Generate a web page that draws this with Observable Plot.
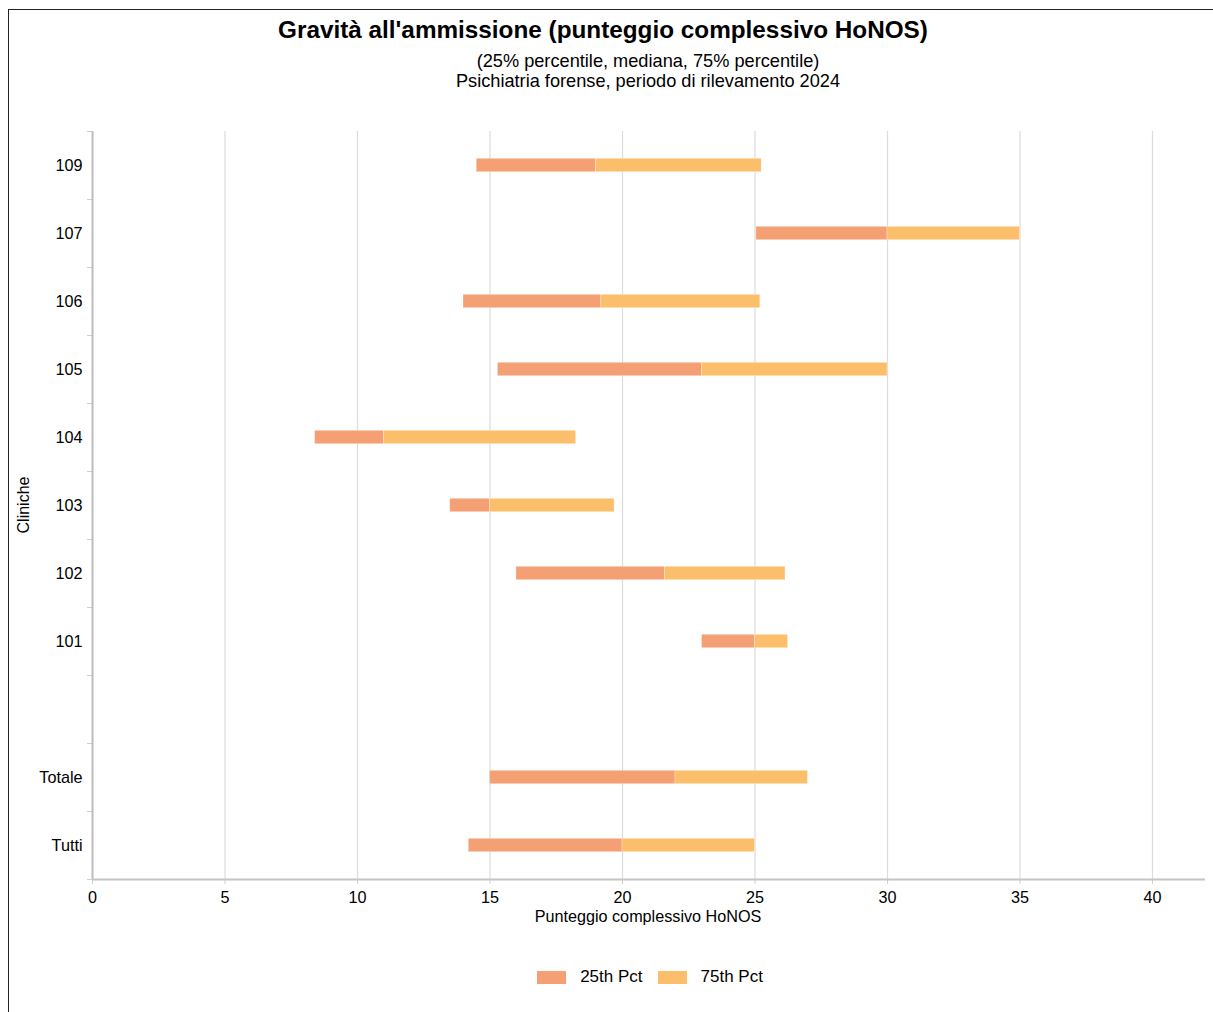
<!DOCTYPE html>
<html>
<head>
<meta charset="utf-8">
<script src="https://cdn.jsdelivr.net/npm/d3@7"></script>
<script src="https://cdn.jsdelivr.net/npm/@observablehq/plot@0.6"></script>
<style>
  html, body { margin: 0; padding: 0; background: #fff; }
  body { font-family: "Liberation Sans", Arial, sans-serif; color: #000; }
  #wrap { position: relative; width: 1213px; height: 1012px; overflow: hidden; }
  #frame { position: absolute; left: 8px; top: 9px; width: 1300px; height: 1100px;
           border-left: 1px solid #222; border-top: 1px solid #222; }
  .abs { position: absolute; white-space: nowrap; }
  #title { left: 0; width: 1206px; top: 16px; text-align: center; font-weight: bold; font-size: 24.3px; line-height: 28px; }
  #sub { left: 448px; width: 400px; top: 52px; text-align: center; font-size: 18.2px; line-height: 19.5px; }
  #chart { position: absolute; left: 0; top: 110px; }
  #xlabel { left: 448px; width: 400px; top: 907px; text-align: center; font-size: 16.2px; line-height: 19px; }
  #ylabel { left: 24px; top: 505px; font-size: 16px; transform: translate(-50%, -50%) rotate(-90deg); }
  #legend { left: 0; width: 1300px; top: 967px; display: flex; justify-content: center; align-items: center; font-size: 17px; }
  .sw { width: 29px; height: 13px; display: inline-block; margin-right: 14px; }
  .item { display: flex; align-items: center; }
  .item + .item { margin-left: 15px; }
</style>
</head>
<body>
<div id="wrap">
  <div id="frame"></div>
  <div id="title" class="abs">Gravità all'ammissione (punteggio complessivo HoNOS)</div>
  <div id="sub" class="abs">(25% percentile, mediana, 75% percentile)<br>Psichiatria forense, periodo di rilevamento 2024</div>
  <div id="chart"></div>
  <div id="xlabel" class="abs">Punteggio complessivo HoNOS</div>
  <div id="ylabel" class="abs">Cliniche</div>
  <div id="legend" class="abs"></div>
</div>
<script>
// ---- data ----
const clinics = ["109", "107", "106", "105", "104", "103", "102", "101", "", "Totale", "Tutti"];
const p25     = [14.5,  25.05, 14.0,  15.3,  8.4,   13.5,  16.0,  23.0,  null, 15.0,  14.2];
const median  = [19.0,  30.0,  19.2,  23.0,  11.0,  15.0,  21.6,  25.0,  null, 22.0,  20.0];
const p75     = [25.25, 35.0,  25.2,  30.0,  18.25, 19.7,  26.15, 26.25, null, 27.0,  25.0];
const seriesNames = ["25th Pct", "75th Pct"];
const seriesColors = ["#f4a074", "#fbbf6b"];
const xTicks = [0, 5, 10, 15, 20, 25, 30, 35, 40];

const rows = clinics.map((c, i) => ({clinic: c, i, p25: p25[i], median: median[i], p75: p75[i]}))
  .filter(d => d.p25 != null);

const n = clinics.length;

const chart = Plot.plot({
  width: 1213,
  height: 800,
  marginLeft: 92,
  marginRight: 8,
  marginTop: 21,
  marginBottom: 31,
  style: {fontFamily: "'Liberation Sans', Arial, sans-serif", fontSize: "16px", color: "#000", background: "transparent"},
  x: {domain: [0, 42]},
  y: {domain: [0, n], reverse: true},
  marks: [
    Plot.gridX({ticks: xTicks.filter(t => t > 0), stroke: "#dcdcdc", strokeOpacity: 1, strokeWidth: 1.2}),
    Plot.axisX({ticks: xTicks, tickSize: 5, tickPadding: 7, stroke: "#d0d0d0", fill: "#000", fontSize: 16.2, label: null}),
    Plot.axisY({ticks: d3.range(0, n + 1), tickSize: 5, tickFormat: () => "", stroke: "#cfcfcf", label: null}),
    Plot.axisY({ticks: d3.range(n).map(i => i + 0.5), tickSize: 0, tickPadding: 10,
      tickFormat: d => clinics[Math.floor(d)], fill: "#000", fontSize: 16.2, label: null}),
    Plot.rect(rows, {x1: "p25", x2: "median", y1: "i", y2: d => d.i + 1,
      insetTop: 27.3, insetBottom: 27.3, fill: seriesColors[0], stroke: "#fff", strokeOpacity: 0.35, strokeWidth: 0.8}),
    Plot.rect(rows, {x1: "median", x2: "p75", y1: "i", y2: d => d.i + 1,
      insetTop: 27.3, insetBottom: 27.3, fill: seriesColors[1], stroke: "#fff", strokeOpacity: 0.35, strokeWidth: 0.8}),
    Plot.ruleX([0], {stroke: "#bdbdbd", strokeWidth: 2}),
    Plot.ruleY([n], {stroke: "#c4c4c4", strokeWidth: 2})
  ]
});
document.getElementById("chart").appendChild(chart);

const legend = document.getElementById("legend");
seriesNames.forEach((s, k) => {
  const item = document.createElement("div");
  item.className = "item";
  item.innerHTML = `<span class="sw" style="background:${seriesColors[k]}"></span><span>${s}</span>`;
  legend.appendChild(item);
});
</script>
</body>
</html>
